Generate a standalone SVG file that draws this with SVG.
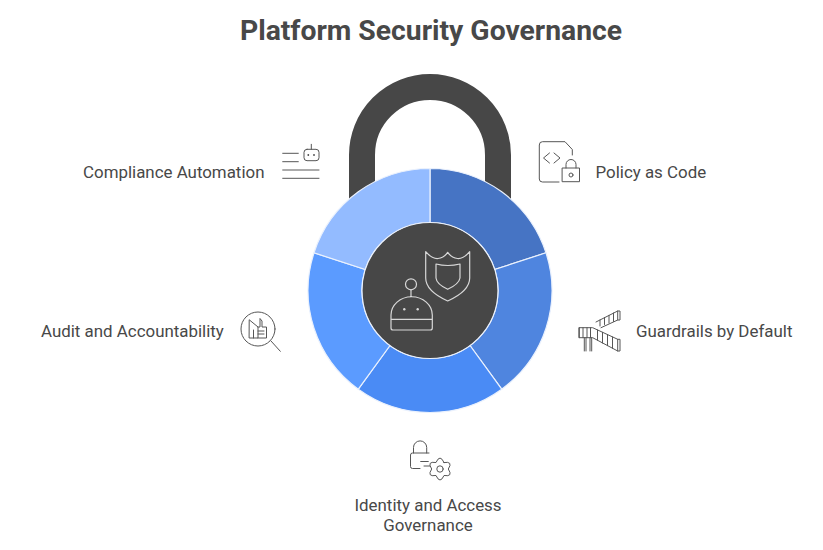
<svg xmlns="http://www.w3.org/2000/svg" width="823" height="550" viewBox="0 0 823 550">
<style>
.t{font-family:Roboto,"Liberation Sans",sans-serif;font-size:16.9px;fill:#484848}
.h{font-family:Roboto,"Liberation Sans",sans-serif;font-size:28.3px;font-weight:700;fill:#484848}
.i{fill:none;stroke:#565656;stroke-width:1;stroke-linecap:round;stroke-linejoin:round}
.w{fill:none;stroke:#d8d8d8;stroke-width:1.2;stroke-linecap:round;stroke-linejoin:round}
.s{stroke:#eaf1fd;stroke-width:1.2}
</style>
<rect width="823" height="550" fill="#fff"/>
<text class="h" x="431" y="40" text-anchor="middle">Platform Security Governance</text>
<g id="lock-shackle"><path d="M362 200V155A68 68 0 0 1 498 155V200" fill="none" stroke="#474747" stroke-width="26"/></g>
<g id="connectors"></g>
<g id="policy-as-code">
<path class="s" fill="#4674c4" d="M430 168.500A122 122 0 0 1 546 252.800L494.700 269.500A68 68 0 0 0 430 222.500Z"/>
<path class="i" d="M559 182H542.500Q539.300 182 539.300 179V145Q539.300 141.700 542.500 141.700H565L572.300 149.500V155M549.500 153L543.500 158L549.500 163M554 153L560 158L554 163M562.500 168H579.500V181.700H562.500ZM566 168V164.500A5 5 0 0 1 576 164.500V168"/>
<circle class="i" cx="571" cy="175" r="2"/>
<text class="t" x="595.500" y="178">Policy as Code</text>
</g>
<g id="guardrails-by-default">
<path class="s" fill="#4f85df" d="M546 252.800A122 122 0 0 1 501.700 389.200L470 345.500A68 68 0 0 0 494.700 269.500Z"/>
<path class="i" d="M596 322L617.700 311H620V320H617.700L601 327.700M617.700 311V320M600 320V326M604.500 317.500V324.500M609 315.300V323M613.500 313V321.500M579.300 327.700H592.700L617.700 339.300H620V351H617.700L592.700 337.700H579.300ZM579.300 327.700V337.700M583 327.700V337.700M587 327.700V337.700M590.500 327.700V337.700M597.500 330V340.300M602.500 332.300V343M607.500 334.600V345.700M612.500 337V348.300M617.700 339.300V351M584.300 337.700V351M586 337.700V351M590 337.700V351M591.700 337.700V351"/>
<text class="t" x="636" y="337">Guardrails by Default</text>
</g>
<g id="identity-and-access-governance">
<path class="s" fill="#4a8bf5" d="M501.700 389.200A122 122 0 0 1 358.300 389.200L390 345.500A68 68 0 0 0 470 345.500Z"/>
<path class="i" d="M429 453H412.500Q410.500 453 410.500 455V466.500Q410.500 468.500 412.500 468.500H420M413.500 453V447.500A6.600 6.600 0 0 1 426.700 447.500V453M420.700 461.500H428.300M424 466H430"/>
<path class="i" d="M444 462.500Q453.500 461 448.300 469Q453.500 477 444 475.500Q440 484.500 436 475.500Q426.500 477 431.700 469Q426.500 461 436 462.500Q440 453.500 444 462.500Z"/>
<circle class="i" cx="440" cy="469" r="3.200"/>
<text class="t" x="428" y="511" text-anchor="middle">Identity and Access</text>
<text class="t" x="428" y="531" text-anchor="middle">Governance</text>
</g>
<g id="audit-and-accountability">
<path class="s" fill="#5b9bff" d="M358.300 389.200A122 122 0 0 1 314 252.800L365.300 269.500A68 68 0 0 0 390 345.500Z"/>
<circle class="i" cx="258" cy="329" r="17"/>
<path class="i" d="M271 341L280.300 351.300M249.500 320L258 327V338H249.500ZM253.500 330V338M258 327H260V318.500L262 321V327H266.500V338H258M258 331H264M258 334H264"/>
<text class="t" x="41" y="337">Audit and Accountability</text>
</g>
<g id="compliance-automation">
<path class="s" fill="#93bbff" d="M314 252.800A122 122 0 0 1 430 168.500V222.500A68 68 0 0 0 365.300 269.500Z"/>
<path class="i" d="M282.700 153.300H298.300M282.700 161.700H298.300M282.700 170H319M282.700 178.300H319M311.300 144.300V149.300"/>
<rect class="i" x="304" y="149.300" width="15" height="11.400" rx="3"/>
<circle cx="308.300" cy="155" r="0.900" fill="#484848"/><circle cx="314" cy="155" r="0.900" fill="#484848"/>
<text class="t" x="83" y="178">Compliance Automation</text>
</g>
<g id="center-hub">
<circle cx="430" cy="290.500" r="68" fill="#474747" stroke="#eaf1fd" stroke-width="1.200"/>
<path class="w" d="M425.700 251.700Q432 259 438 258.500Q444 258 447.700 252.300Q451.500 258 457.500 258.500Q463.500 259 469.700 251.700V278Q469.700 291 447.700 301Q425.700 291 425.700 278Z"/>
<path class="w" d="M436 264Q447.700 267 460 264V278Q459 284 447.700 289.300Q436.500 284 436 278Z"/>
<circle class="w" cx="411" cy="284.300" r="5.500"/>
<path class="w" d="M411 289.800V296.700M391 319.300V315A20.650 18.300 0 0 1 432.300 315V319.300ZM391 319.300V328Q391 330 393 330H430.300Q432.300 330 432.300 328V319.300"/>
<circle cx="404.300" cy="309.300" r="1.200" fill="#d8d8d8"/><circle cx="417.700" cy="309.300" r="1.200" fill="#d8d8d8"/>
</g>
</svg>
